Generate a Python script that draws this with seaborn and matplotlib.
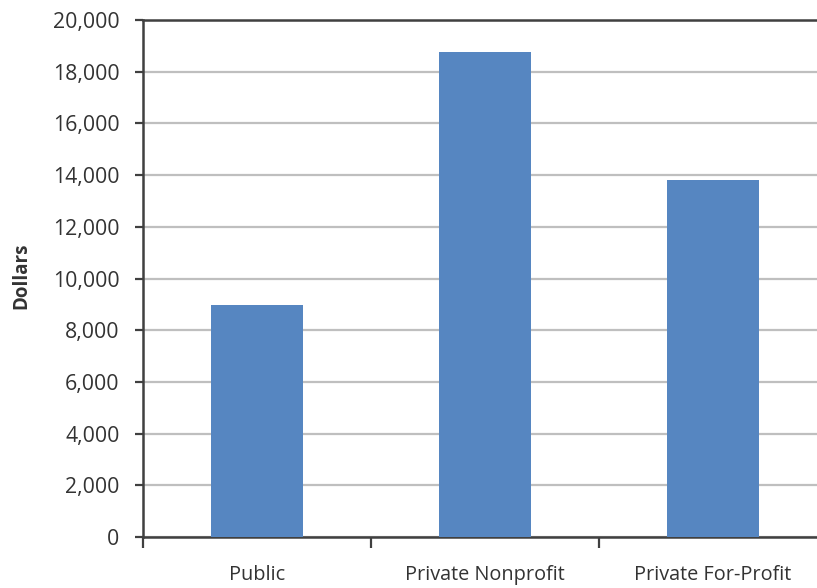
import matplotlib
matplotlib.use("Agg")
import matplotlib.pyplot as plt
from matplotlib.ticker import FuncFormatter, FixedLocator
import seaborn as sns
import pandas as pd

sectors = ["Public", "Private Nonprofit", "Private For-Profit"]
dollars = [8970, 18770, 13810]
y_ticks = [0, 2000, 4000, 6000, 8000, 10000, 12000, 14000, 16000, 18000, 20000]

sns.set_theme(style="white")
plt.rcParams["font.family"] = ["Open Sans", "DejaVu Sans"]

df = pd.DataFrame({"sector": sectors, "dollars": dollars})

fig = plt.figure(figsize=(8.17, 5.88), dpi=100)
ax = fig.add_axes([143 / 817, 1 - 537 / 588, 684 / 817, 517 / 588])

sns.barplot(data=df, x="sector", y="dollars", color="#5686C1",
            width=0.40, saturation=1, linewidth=0, edgecolor="none",
            ax=ax, zorder=3)

ax.set_ylim(0, 20000)
ax.set_xlim(-0.5, 2.5)
ax.yaxis.set_major_locator(FixedLocator(y_ticks))
ax.yaxis.set_major_formatter(FuncFormatter(lambda v, p: f"{int(v):,}"))
ax.grid(axis="y", color="#BFBFBF", linewidth=1.6, zorder=0)
ax.grid(axis="x", visible=False)

# boundaries between categories carry the tick marks, names sit in the middle
ax.set_xticks([-0.5, 0.5, 1.5, 2.5])
ax.set_xticklabels([])
ax.set_xticks([0, 1, 2], minor=True)
ax.set_xticklabels(sectors, minor=True)
ax.tick_params(axis="x", which="major", direction="out", length=8,
               width=1.6, color="#404040", bottom=True)
ax.tick_params(axis="x", which="minor", length=0, pad=20,
               labelsize=14.3, labelcolor="#333333")
ax.tick_params(axis="y", direction="out", length=6, width=1.6,
               color="#404040", left=True, pad=11,
               labelsize=15.3, labelcolor="#333333")

for side in ("left", "bottom", "top"):
    ax.spines[side].set_visible(True)
    ax.spines[side].set_color("#404040")
    ax.spines[side].set_linewidth(1.8)
ax.spines["right"].set_visible(False)

ax.set_xlabel("")
ax.set_ylabel("Dollars", fontsize=13.5, fontweight="bold", color="#333333")
ax.yaxis.set_label_coords(-0.163, 0.505)

fig.savefig("out.png", dpi=100)
